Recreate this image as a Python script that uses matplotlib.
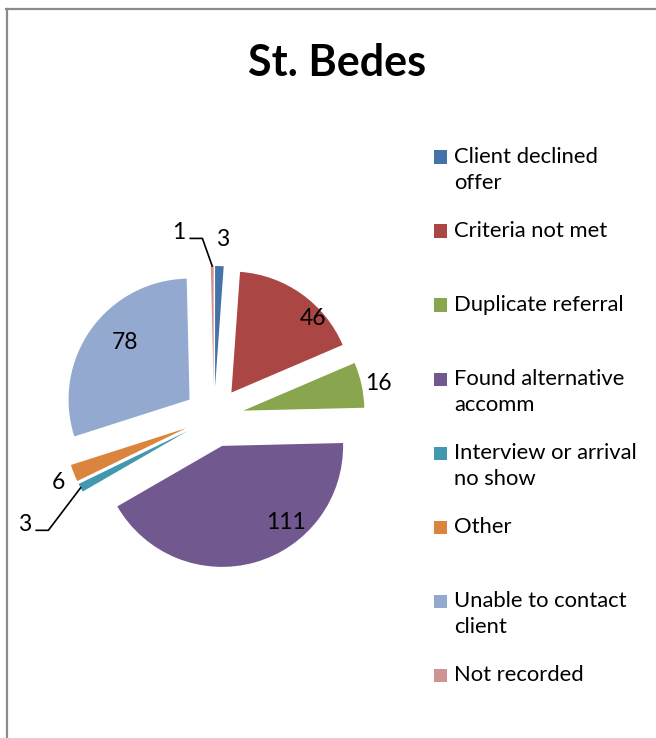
import numpy as np
import matplotlib
matplotlib.use("Agg")
import matplotlib.pyplot as plt
from matplotlib.patches import Rectangle
from matplotlib.lines import Line2D

plt.rcParams["font.family"] = ["Lato", "DejaVu Sans"]

# data
categories = ["Client declined\noffer", "Criteria not met", "Duplicate referral",
              "Found alternative\naccomm", "Interview or arrival\nno show", "Other",
              "Unable to contact\nclient", "Not recorded"]
values = [3, 46, 16, 111, 3, 6, 78, 1]
colors = ["#4572A7", "#AA4643", "#89A54E", "#71588F",
          "#4198AF", "#DB843D", "#93A9CF", "#D19392"]

# label placement (distance in radii, angle in degrees) from each slice's centre
label_pos = [(1.22, 87), (0.91, 42), (1.14, 11.3), (0.82, -50.3),
             (1.55, -150.2), (1.15, -157), (0.71, 138.3), (1.31, 102.7)]
leader = {4: True, 7: True}

W, H = 656, 738
fig = plt.figure(figsize=(W / 100, H / 100), dpi=100)

# outer chart frame (cropped on right/bottom as in the reference)
fig.add_artist(Line2D([6 / W, 1.0], [1 - 9 / H, 1 - 9 / H], color="#8c8c8c", lw=1.6))
fig.add_artist(Line2D([7 / W, 7 / W], [0.0, 1 - 9 / H], color="#8c8c8c", lw=1.6))

# pie axes: centre at (214, 417) px, radius 121 px
cx, cy, rpx, a = 214, 417, 121, 1.6
half = rpx * a
ax = fig.add_axes([(cx - half) / W, (H - cy - half) / H, 2 * half / W, 2 * half / H])

wedges, _ = ax.pie(values, colors=colors, startangle=90, counterclock=False,
                   explode=[0.248] * len(values), radius=1,
                   wedgeprops=dict(linewidth=0))
ax.set_xlim(-a, a)
ax.set_ylim(-a, a)
ax.set_aspect("equal")
ax.axis("off")

for i, w in enumerate(wedges):
    ccx, ccy = w.center
    d, ang = label_pos[i]
    tx = ccx + d * np.cos(np.radians(ang))
    ty = ccy + d * np.sin(np.radians(ang))
    ax.text(tx, ty, str(values[i]), ha="center", va="center", fontsize=16.5,
            color="black")
    if i in leader:
        mid = np.radians((w.theta1 + w.theta2) / 2)
        px = ccx + np.cos(mid)
        py = ccy + np.sin(mid)
        x0, y0 = tx + 0.095, ty - 0.05
        x1 = tx + 0.195
        ax.plot([x0, x1, px], [y0, y0, py], color="black", lw=1.2)

fig.text(337 / W, 1 - 63 / H, "St. Bedes", ha="center", va="center",
         fontsize=31, fontweight="bold")

# legend
row0, step = 157, 74
for i, lab in enumerate(categories):
    yc = row0 + i * step
    fig.add_artist(Rectangle((434 / W, 1 - (yc + 6.5) / H), 13 / W, 13 / H,
                             facecolor=colors[i], edgecolor="none"))
    fig.text(454 / W, 1 - (yc - 10) / H, lab, ha="left", va="top",
             fontsize=15.8, linespacing=1.38)

fig.savefig("out.png", dpi=100)
